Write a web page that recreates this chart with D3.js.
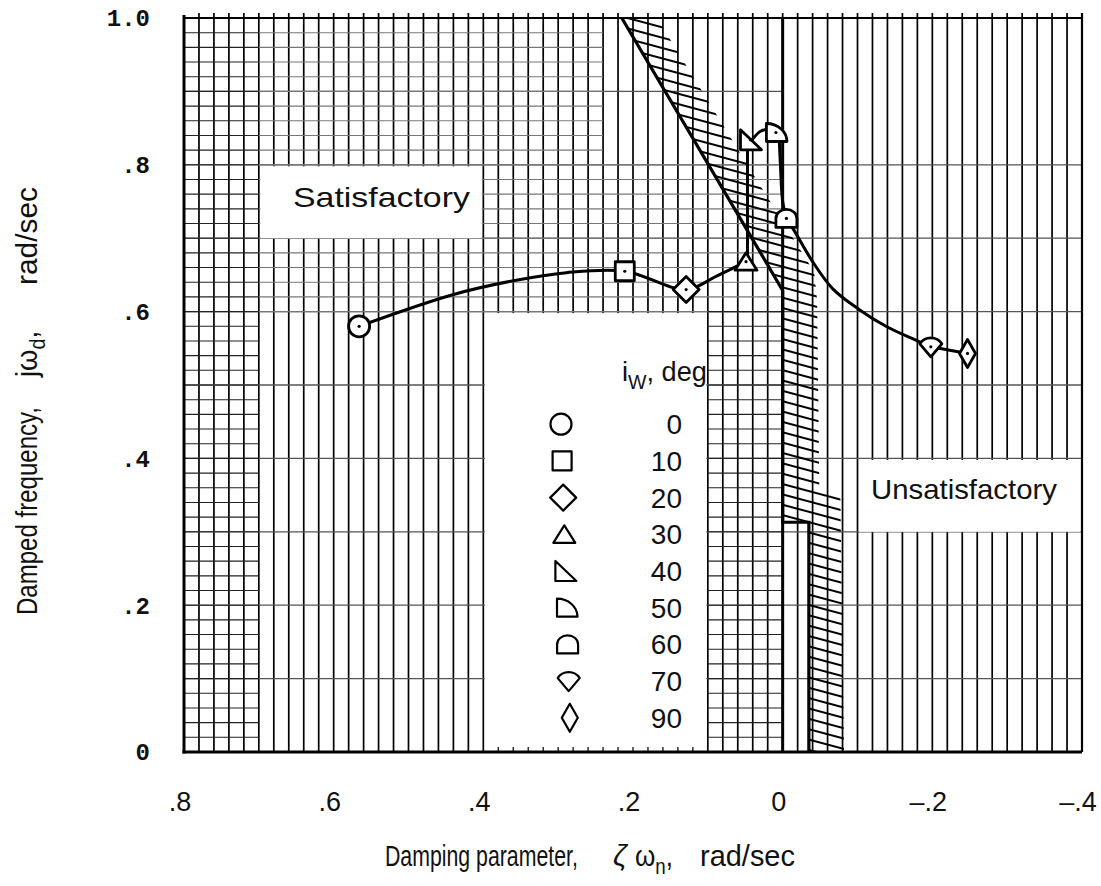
<!DOCTYPE html>
<html>
<head>
<meta charset="utf-8">
<script src="https://cdn.jsdelivr.net/npm/d3@7"></script>
<style>
  body { margin: 0; background: #fff; }
  svg { display: block; }
  text { fill: #111; }
</style>
</head>
<body>
<script>
const W = 1101, H = 886;

// wing incidence of each test point, deg
const iwDeg = [0, 10, 20, 30, 40, 50, 60, 70, 90];
// damping parameter (zeta * omega_n), rad/sec
const damping = [0.566, 0.211, 0.129, 0.049, 0.043, 0.009, -0.005, -0.198, -0.247];
// damped frequency (j omega_d), rad/sec
const frequency = [0.580, 0.655, 0.630, 0.668, 0.834, 0.844, 0.727, 0.552, 0.543];
const symbolNames = ['circle', 'square', 'diamond', 'triangle', 'rtriangle', 'quadrant', 'dome', 'shield', 'narrow'];

// faired curve through the points, drawn in pieces
const fairLow  = [[0.566,0.580],[0.441,0.623],[0.360,0.642],[0.289,0.653],[0.211,0.655],[0.129,0.630],[0.089,0.648],[0.049,0.668]];
const fairRise = [[0.047,0.668],[0.047,0.834]];
const fairHook = [[0.041,0.834],[0.029,0.846],[0.018,0.848],[0.009,0.844]];
const fairDrop = [[0.005,0.844],[0.003,0.800],[0.000,0.750],[-0.005,0.727]];
const fairTail = [[-0.005,0.727],[-0.015,0.711],[-0.040,0.668],[-0.067,0.631],[-0.102,0.603],[-0.138,0.580],[-0.178,0.561],[-0.198,0.552]];
const fairEnd  = [[-0.198,0.552],[-0.247,0.543]];

// satisfactory / unsatisfactory boundary and the outer edge of its hatching
const boundary  = [[0.215,1.0],[0.0,0.629],[0.0,0.313],[-0.035,0.313],[-0.035,0]];
const hatchEdge = [[0.168,1.0],[0.032,0.775],[-0.042,0.654],[-0.046,0.616],[-0.049,0.36],[-0.077,0.354],[-0.082,0]];

const xTicks = [0.8, 0.6, 0.4, 0.2, 0, -0.2, -0.4];
const xTickLabels = ['.8', '.6', '.4', '.2', '0', '\u2013.2', '\u2013.4'];
const yTicks = [0, 0.2, 0.4, 0.6, 0.8, 1.0];
const yTickLabels = ['0', '.2', '.4', '.6', '.8', '1.0'];

// graph paper patches ruled every .02 both ways: [x from, x to, y from, y to]
const finePatches = [[0.8, 0.7, 0, 1], [0.7, 0.24, 0.8, 1], [0.7, 0.0, 0.6, 0.8], [0.1, 0.0, 0, 0.6]];
// blanked areas for the labels and the key
const blankBoxes = [[0.7, 0.4, 0.7, 0.8], [0.4, 0.1, 0, 0.6], [-0.1, -0.4, 0.3, 0.4]];

const x = d3.scaleLinear().domain([0.8, -0.4]).range([184, 1082]);
const y = d3.scaleLinear().domain([0, 1]).range([752, 18]);

const svg = d3.select('body').append('svg').attr('width', W).attr('height', H);
const sans = 'Liberation Sans, Arial, sans-serif';

// ---- graph paper
const grid = svg.append('g').attr('class', 'grid');
const gridX = d3.range(1, 60).map(i => +(0.8 - i * 0.02).toFixed(2));
grid.selectAll('line.v').data(gridX).join('line').attr('class', 'v')
    .attr('x1', d => x(d)).attr('x2', d => x(d))
    .attr('y1', y(0)).attr('y2', y(1) - 5)
    .attr('stroke', '#000').attr('stroke-width', 1.7);

const coarseY = d3.range(1, 10).map(i => i / 10);
grid.selectAll('line.hc').data(coarseY).join('line').attr('class', 'hc')
    .attr('x1', x(0.8)).attr('x2', d => d === 0.9 ? x(0) : x(-0.4))
    .attr('y1', d => y(d)).attr('y2', d => y(d))
    .attr('stroke', '#555').attr('stroke-width', 1.3);

finePatches.forEach(([x0, x1, y0, y1], k) => {
  const rows = d3.range(Math.round(y0 / 0.02), Math.round(y1 / 0.02) + 1).map(i => i * 0.02);
  grid.append('g').selectAll('line').data(rows).join('line')
      .attr('x1', x(x0)).attr('x2', x(x1))
      .attr('y1', d => y(d)).attr('y2', d => y(d))
      .attr('stroke', k === 0 || k === 3 ? '#222' : '#777').attr('stroke-width', 1.1);
});

svg.append('g').selectAll('rect').data(blankBoxes).join('rect')
    .attr('x', d => x(d[0]) + 1.5).attr('width', d => x(d[1]) - x(d[0]) - 3)
    .attr('y', d => y(d[3]) + 1.5).attr('height', d => y(d[2]) - y(d[3]) - 1.5)
    .attr('fill', '#fff');

// short rulings left along the bottom edge of the key
svg.append('g').selectAll('line').data(gridX.filter(v => v < 0.4 && v > 0.1)).join('line')
    .attr('x1', d => x(d)).attr('x2', d => x(d))
    .attr('y1', y(0)).attr('y2', y(0) - 5)
    .attr('stroke', '#111').attr('stroke-width', 1.3);

// ---- hatched boundary
const defs = svg.append('defs');
const pat = defs.append('pattern').attr('id', 'hatch')
    .attr('patternUnits', 'userSpaceOnUse')
    .attr('width', 40).attr('height', 10)
    .attr('patternTransform', 'rotate(15)');
pat.append('line').attr('x1', 0).attr('x2', 40).attr('y1', 5).attr('y2', 5)
    .attr('stroke', '#000').attr('stroke-width', 2.2);

const line = d3.line().x(d => x(d[0])).y(d => y(d[1]));
svg.append('path')
    .attr('d', line(boundary.concat(hatchEdge.slice().reverse())) + 'Z')
    .attr('fill', 'url(#hatch)');

svg.append('line')
    .attr('x1', x(0)).attr('x2', x(0)).attr('y1', y(0)).attr('y2', y(1))
    .attr('stroke', '#000').attr('stroke-width', 3);
svg.append('path').attr('d', line(boundary))
    .attr('fill', 'none').attr('stroke', '#000').attr('stroke-width', 3.2);

// ---- frame
const frame = svg.append('g').attr('stroke', '#000');
frame.append('line').attr('x1', x(0.8)).attr('x2', x(-0.4)).attr('y1', y(1)).attr('y2', y(1)).attr('stroke-width', 1.8);
frame.append('line').attr('x1', x(-0.4)).attr('x2', x(-0.4)).attr('y1', y(1) - 5).attr('y2', y(0)).attr('stroke-width', 2.2);
frame.append('line').attr('x1', x(0.8)).attr('x2', x(0.8)).attr('y1', y(1) - 3).attr('y2', y(0) + 1.5).attr('stroke-width', 3);
frame.append('line').attr('x1', x(0.8) - 1.5).attr('x2', x(-0.4)).attr('y1', y(0)).attr('y2', y(0)).attr('stroke-width', 3);

// ---- faired curve
const smooth = d3.line().x(d => x(d[0])).y(d => y(d[1])).curve(d3.curveCatmullRom.alpha(0.5));
[fairLow, fairRise, fairHook, fairDrop, fairTail, fairEnd].forEach(seg => {
  svg.append('path').attr('d', smooth(seg))
      .attr('fill', 'none').attr('stroke', '#000').attr('stroke-width', 3)
      .attr('stroke-linecap', 'round');
});

// ---- symbols
const shapes = {
  circle:    'M10.5,0A10.5,10.5 0 1,1 -10.5,0A10.5,10.5 0 1,1 10.5,0Z',
  square:    'M-9.5,-9.5H9.5V9.5H-9.5Z',
  diamond:   'M0,-13L13,0L0,13L-13,0Z',
  triangle:  'M0,-9L11,8.5H-11Z',
  rtriangle: 'M-10,-10V10H11Z',
  quadrant:  'M-9.5,9V-9A20.5,18 0 0,1 11,9Z',
  dome:      'M-10.5,9V0A10.5,9 0 0,1 10.5,0V9Z',
  shield:    'M-11,-3C-6,-11 6,-11 11,-3L0,10Z',
  narrow:    'M0,-14L8,0L0,14L-8,0Z'
};

const points = iwDeg.map((deg, i) => ({ deg, zw: damping[i], wd: frequency[i], shape: symbolNames[i] }));
const marks = svg.append('g').selectAll('g').data(points).join('g')
    .attr('transform', d => `translate(${x(d.zw)},${y(d.wd)})`);
marks.append('path').attr('d', d => shapes[d.shape])
    .attr('fill', '#fff').attr('stroke', '#000').attr('stroke-width', 2.8)
    .attr('stroke-linejoin', 'round');
marks.append('circle').attr('r', 1.6).attr('fill', '#000');

// text squeezed (or stretched) to a set width with a horizontal scale
function fitText(parent, str, px, py, width, size, opts = {}) {
  const g = parent.append('g');
  const t = g.append('text').attr('font-family', sans).attr('font-size', size);
  if (opts.italic) t.attr('font-style', 'italic');
  if (opts.sub) {
    t.append('tspan').text(str);
    t.append('tspan').attr('dy', size * 0.27).attr('font-size', size * 0.72).text(opts.sub);
    t.append('tspan').attr('dy', -size * 0.27).text(opts.tail || '');
  } else {
    t.text(str);
  }
  const natural = t.node().getComputedTextLength();
  const k = width ? width / natural : 1;
  g.attr('transform', `translate(${px},${py}) scale(${k},1)`);
  return g;
}

// ---- key
const key = svg.append('g');
fitText(key, 'i', 622, 381, 85, 28, { sub: 'W', tail: ', deg' });
const rows = key.selectAll('g.row').data(points).join('g').attr('class', 'row')
    .attr('transform', (d, i) => `translate(0,${424.2 + i * 36.7})`);
rows.append('path').attr('d', d => shapes[d.shape])
    .attr('transform', (d, i) => `translate(${561 + i * 1.1},0)`)
    .attr('fill', 'none').attr('stroke', '#000').attr('stroke-width', 2.2)
    .attr('stroke-linejoin', 'round');
rows.append('text').attr('x', 682).attr('dy', '0.36em').attr('text-anchor', 'end')
    .attr('font-family', sans).attr('font-size', 28).text(d => d.deg);

// ---- region labels
fitText(svg, 'Satisfactory', 293, 207, 177, 28);
fitText(svg, 'Unsatisfactory', 871, 499, 186, 28);

// ---- tick labels
svg.append('g').selectAll('text').data(xTicks).join('text')
    .attr('x', d => x(d) - 4).attr('y', 811).attr('text-anchor', 'middle')
    .attr('font-family', sans).attr('font-size', 27)
    .text((d, i) => xTickLabels[i]);
svg.append('g').selectAll('text').data(yTicks).join('text')
    .attr('x', 150).attr('y', d => y(d)).attr('dy', '0.35em').attr('text-anchor', 'end')
    .attr('font-family', 'Liberation Mono, DejaVu Sans Mono, monospace').attr('font-weight', 'bold')
    .attr('font-size', 24)
    .text((d, i) => yTickLabels[i]);

// ---- axis titles
const xTitle = svg.append('g').attr('transform', 'translate(385,866)');
fitText(xTitle, 'Damping parameter,', 0, 0, 193, 30);
fitText(xTitle, '\u03b6', 228, 0, 0, 30, { italic: true });
fitText(xTitle, '\u03c9', 250, 0, 38, 30, { sub: 'n', tail: ',' });
fitText(xTitle, 'rad/sec', 315, 0, 95, 30);

const yTitle = svg.append('g').attr('transform', 'translate(37,615) rotate(-90)');
fitText(yTitle, 'Damped frequency,', 0, 0, 208, 30);
fitText(yTitle, 'j\u03c9', 238, 0, 46, 30, { sub: 'd', tail: ',' });
fitText(yTitle, 'rad/sec', 330, 0, 98, 30);
</script>
</body>
</html>
